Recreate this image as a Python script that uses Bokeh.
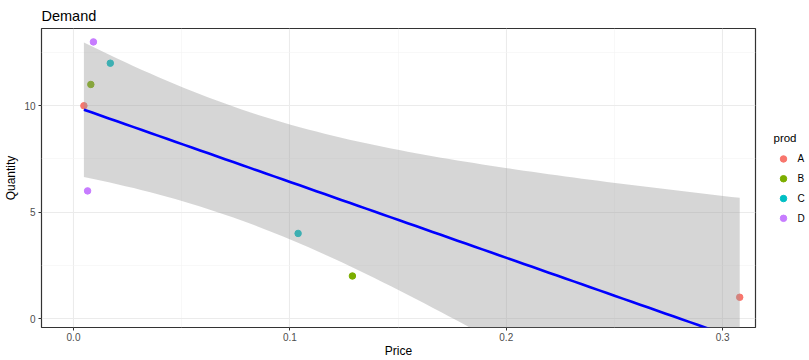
import numpy as np
from bokeh.plotting import figure
from bokeh.models import Range1d, FixedTicker
from bokeh.layouts import row
from bokeh.core.properties import value
from bokeh.embed import file_html
from bokeh.resources import INLINE

# ---- data ----
prods = ["A", "B", "C", "D"]
price_A = [0.0048, 0.3079]
qty_A = [10, 1]
price_B = [0.0080, 0.1289]
qty_B = [11, 2]
price_C = [0.0170, 0.1038]
qty_C = [12, 4]
price_D = [0.0092, 0.0065]
qty_D = [13, 6]
colors = ["#F8766D", "#7CAE00", "#00BFC4", "#C77CFF"]

x_ticks = [0.0, 0.1, 0.2, 0.3]
x_tick_labels = ["0.0", "0.1", "0.2", "0.3"]
x_minor = [0.05, 0.15, 0.25]
y_ticks = [0, 5, 10]
y_tick_labels = ["0", "5", "10"]
y_minor = [2.5, 7.5, 12.5]

# ---- linear fit with 95% confidence band (as geom_smooth(method="lm")) ----
xs_all = np.array(price_A + price_B + price_C + price_D, dtype=float)
ys_all = np.array(qty_A + qty_B + qty_C + qty_D, dtype=float)
n = len(xs_all)
slope, intercept = np.polyfit(xs_all, ys_all, 1)
resid = ys_all - (intercept + slope * xs_all)
s = np.sqrt(np.sum(resid ** 2) / (n - 2))
xbar = xs_all.mean()
sxx = np.sum((xs_all - xbar) ** 2)
t_crit = 2.446912  # t(0.975, df=6)
xf = np.linspace(xs_all.min(), xs_all.max(), 80)
yf = intercept + slope * xf
se = s * np.sqrt(1.0 / n + (xf - xbar) ** 2 / sxx)
lo = yf - t_crit * se
hi = yf + t_crit * se

FONT = "Liberation Sans"
W, H = 809, 360
LEG_W = 52

p = figure(width=W - LEG_W, height=H, output_backend="svg", toolbar_location=None,
           x_range=Range1d(-0.0148, 0.3152), y_range=Range1d(-0.42, 13.63),
           min_border_left=41, min_border_right=2, min_border_top=27, min_border_bottom=0)
p.background_fill_color = "white"
p.border_fill_color = "white"
p.outline_line_color = "#333333"
p.outline_line_width = 1.2

p.title.text = "Demand"
p.title.text_font = FONT
p.title.text_font_size = "14.5px"
p.title.text_font_style = "normal"
p.title.text_color = "black"
p.title.standoff = 10
p.title.offset = 0

p.xaxis.ticker = FixedTicker(ticks=x_ticks, minor_ticks=x_minor)
p.yaxis.ticker = FixedTicker(ticks=y_ticks, minor_ticks=y_minor)
p.xaxis.major_label_overrides = dict(zip(x_ticks, x_tick_labels))
p.yaxis.major_label_overrides = dict(zip(y_ticks, y_tick_labels))
p.xaxis.axis_label = "Price"
p.yaxis.axis_label = "Quantity"
for ax in (p.xaxis, p.yaxis):
    ax.axis_line_color = None
    ax.major_tick_line_color = "#333333"
    ax.major_tick_out = 3
    ax.major_tick_in = 0
    ax.minor_tick_line_color = None
    ax.major_label_text_font = FONT
    ax.major_label_text_font_size = "10px"
    ax.major_label_text_color = "#4D4D4D"
    ax.major_label_standoff = 1
    ax.axis_label_text_font = FONT
    ax.axis_label_text_font_size = "12px"
    ax.axis_label_text_font_style = "normal"
    ax.axis_label_text_color = "black"
    ax.axis_label_standoff = 0
p.yaxis.major_label_standoff = 2
p.yaxis.axis_label_standoff = 3

for g in (p.xgrid, p.ygrid):
    g.grid_line_color = "#EBEBEB"
    g.grid_line_width = 1.1
    g.minor_grid_line_color = "#F3F3F3"
    g.minor_grid_line_width = 0.6

for xv, yv, col in zip([price_A, price_B, price_C, price_D],
                       [qty_A, qty_B, qty_C, qty_D], colors):
    p.scatter(xv, yv, size=6.5, fill_color=col, line_color=col)

p.varea(x=xf, y1=lo, y2=hi, fill_color="#999999", fill_alpha=0.4)
p.line(xf, yf, line_color="blue", line_width=2.6)

# ---- legend panel (separate small figure; shares the plot's vertical scale) ----
lg = figure(width=LEG_W, height=H, output_backend="svg", toolbar_location=None,
            title=None, x_axis_type=None, y_axis_type=None,
            x_range=Range1d(0, LEG_W), y_range=p.y_range,
            min_border_left=0, min_border_right=0, min_border_top=0, min_border_bottom=0)
lg.grid.visible = False
lg.outline_line_color = None
lg.background_fill_color = "white"
lg.border_fill_color = "white"

leg_title_y = 8.5
leg_first_y = 7.5
leg_step = 0.93
row_y = [leg_first_y - leg_step * i for i in range(len(prods))]
lg.text(x=[16], y=[leg_title_y], text=["prod"], text_font=value(FONT), text_font_size="11.5px",
        text_font_style="normal", text_baseline="middle", text_align="left", text_color="black")
lg.scatter(x=[26] * len(prods), y=row_y, size=6.5, fill_color=colors, line_color=colors)
lg.text(x=[40] * len(prods), y=row_y, text=prods, text_font=value(FONT),
        text_font_size="10px", text_baseline="middle", text_align="left", text_color="black")

layout = row(p, lg, spacing=0)
open("out.html", "w").write(file_html(layout, INLINE))
